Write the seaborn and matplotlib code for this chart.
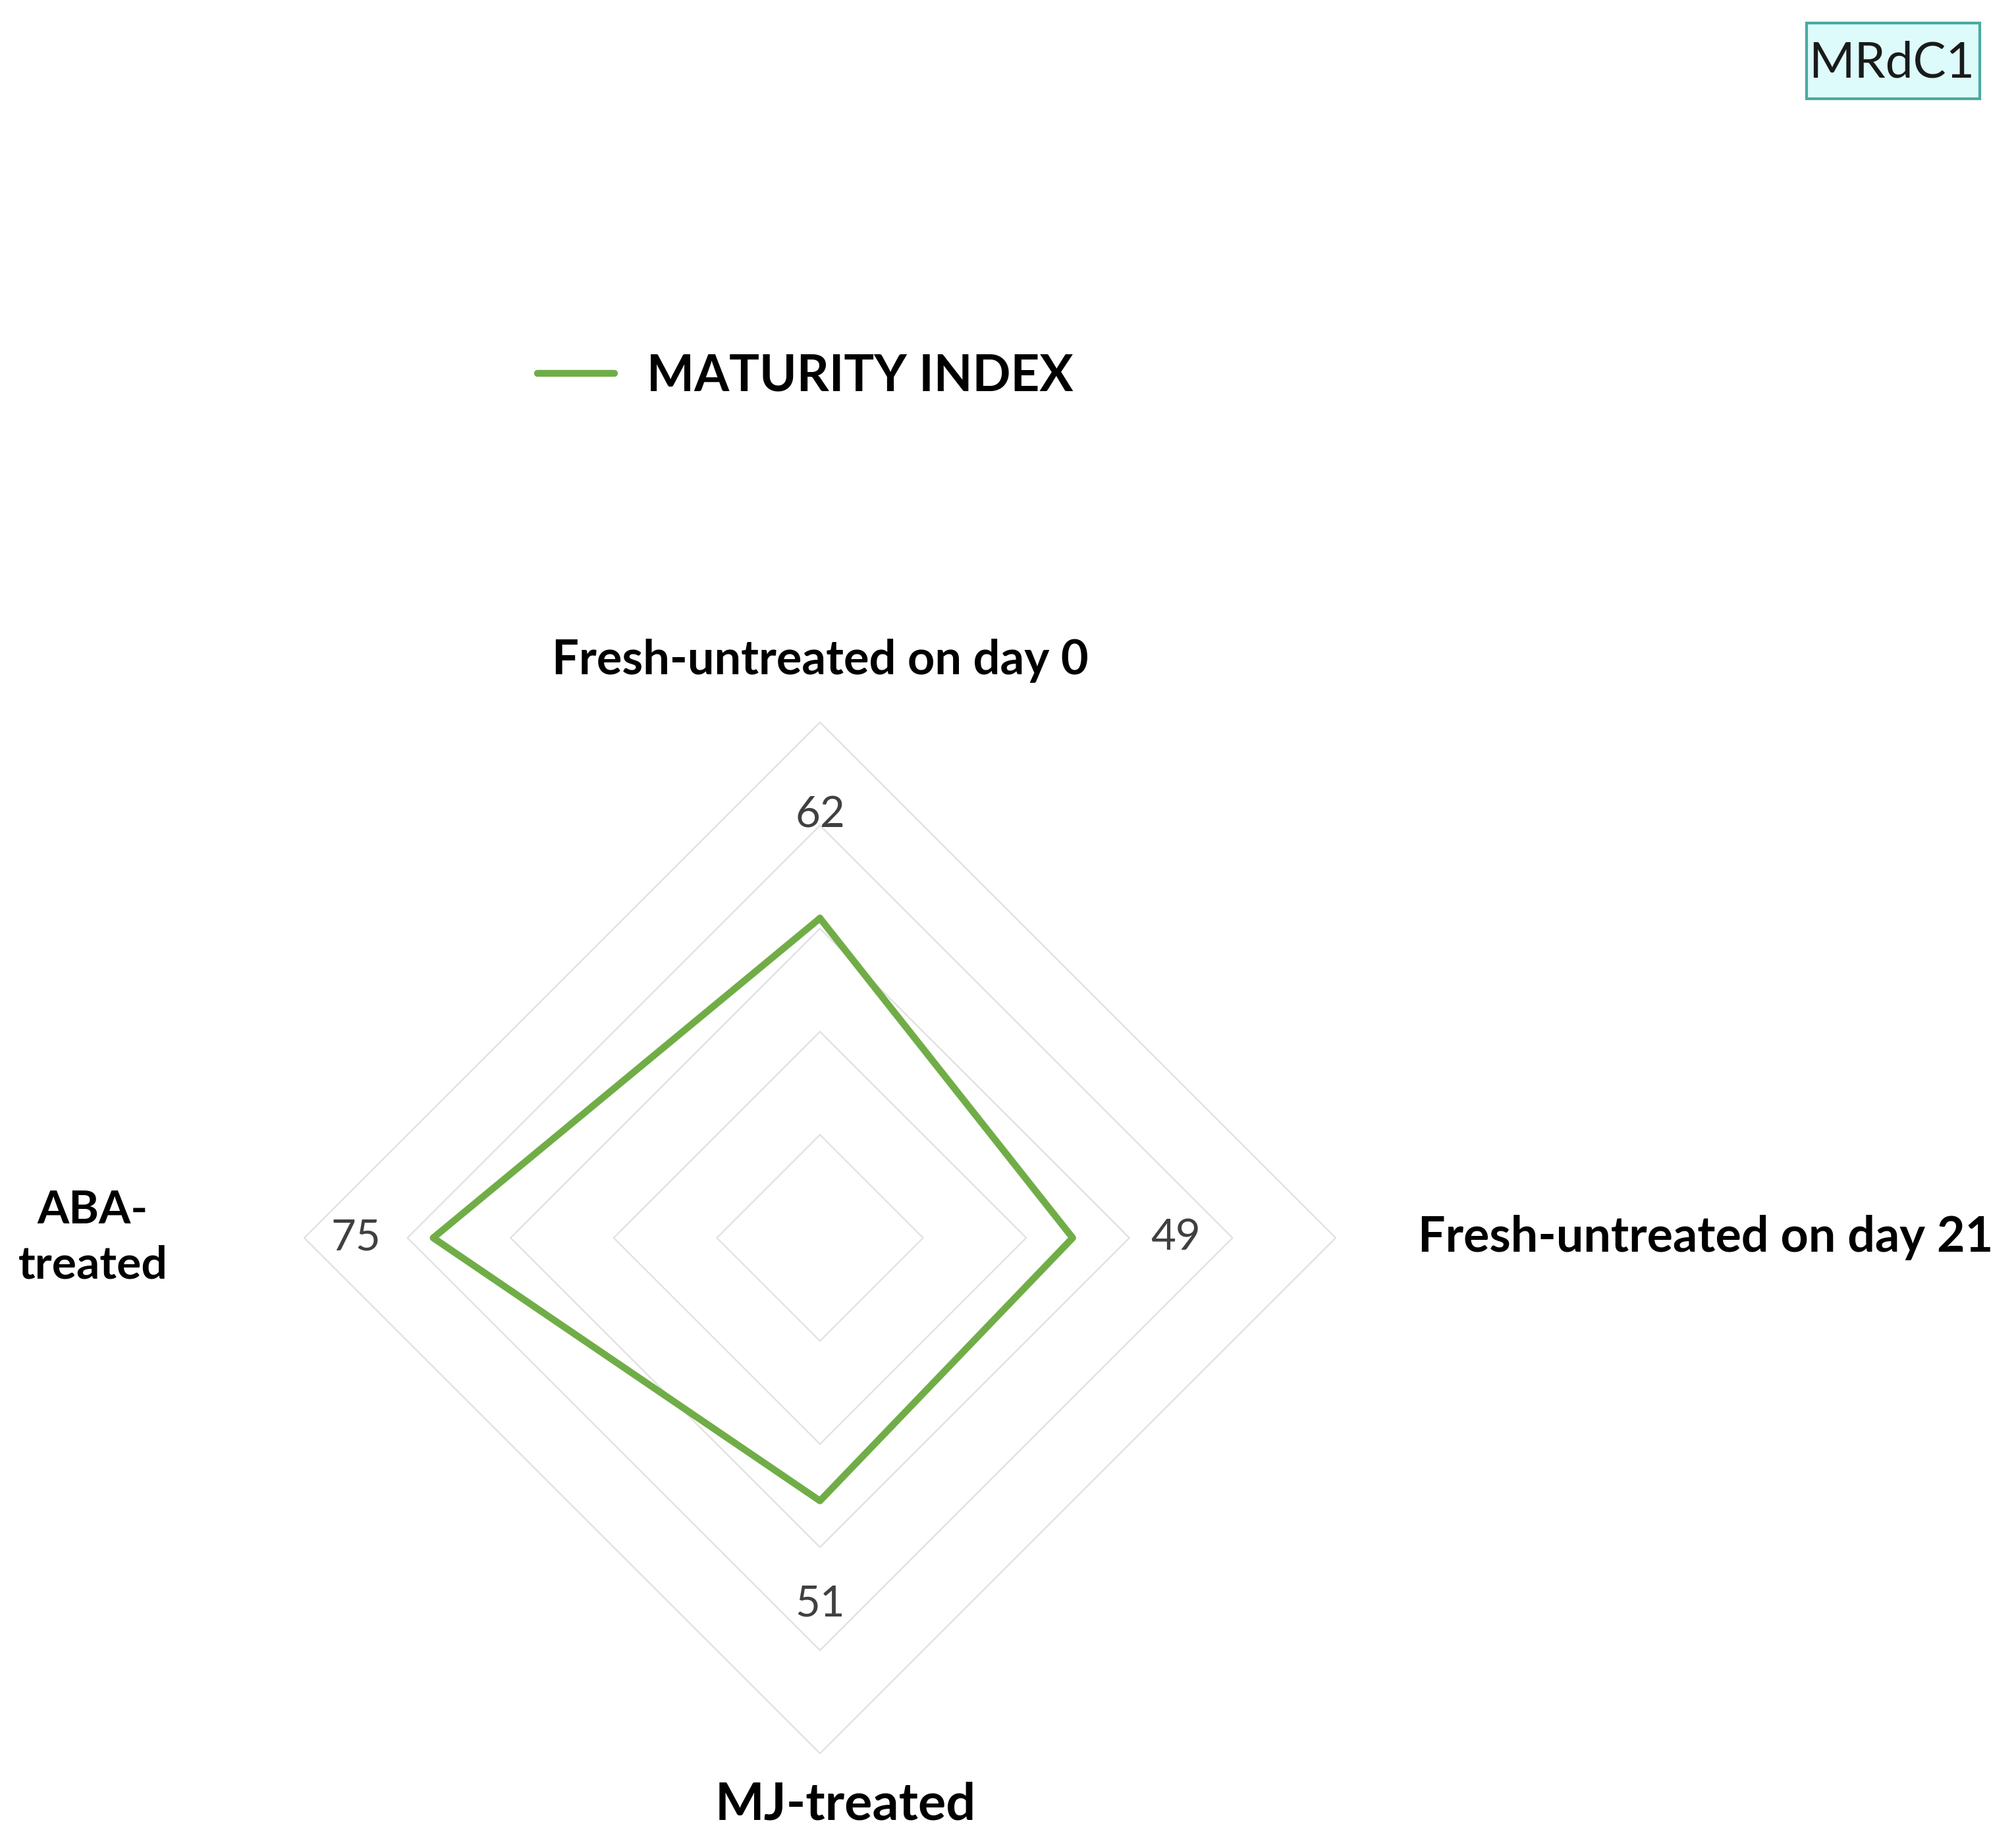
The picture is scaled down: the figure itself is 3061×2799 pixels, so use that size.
import numpy as np
import pandas as pd
import matplotlib
matplotlib.use('Agg')
import matplotlib.pyplot as plt
from matplotlib.patches import Rectangle
import seaborn as sns

# data
categories = ['Fresh-untreated on day 0', 'Fresh-untreated on day 21', 'MJ-treated', 'ABA-\ntreated']
maturity_index = [62, 49, 51, 75]
grid_levels = [20, 40, 60, 80, 100]
series_name = 'MATURITY INDEX'
badge_text = 'MRdC1'

sns.set_theme(style='white')
plt.rcParams['font.family'] = ['Lato', 'DejaVu Sans']

W, H, DPI = 3061, 2799, 100
fig = plt.figure(figsize=(W / DPI, H / DPI), dpi=DPI)
fig.patch.set_facecolor('white')
ax = fig.add_axes([0, 0, 1, 1])

# radar centre (pixels) and pixels per index unit
cx, cy, ppu = 1245, 1880, 7.83
ax.axis('off')

# axes go clockwise starting at the top
angles = np.pi / 2 - np.arange(len(categories)) * 2 * np.pi / len(categories)
closed = np.append(angles, angles[0])

# diamond gridlines
for lev in grid_levels:
    ax.plot(lev * np.cos(closed), lev * np.sin(closed), color='#E2E2E2', lw=1.7, zorder=1)

# the series
vals = np.append(maturity_index, maturity_index[0])
df = pd.DataFrame({'x': vals * np.cos(closed), 'y': vals * np.sin(closed)})
sns.lineplot(data=df, x='x', y='y', sort=False, estimator=None, color='#70AD47',
             lw=7.5, label=series_name, ax=ax, zorder=3)
ax.set_xlim(-cx / ppu, (W - cx) / ppu)
ax.set_ylim(-(H - cy) / ppu, cy / ppu)

# data labels
label_offset = [20, 20, 20, 15]
for a, v, off in zip(angles, maturity_index, label_offset):
    r = v + off
    ax.text(r * np.cos(a), r * np.sin(a), str(v), ha='center', va='center',
            fontsize=47, color='#404040')

# category labels
cat_radius = [112, 116, 110, 141]
cat_dx = [0, 0, 5, 0]
cat_ha = ['center', 'left', 'center', 'center']
cat_size = [52, 53, 57, 50]
for a, name, r, dx, ha, fs in zip(angles, categories, cat_radius, cat_dx, cat_ha, cat_size):
    ax.text(r * np.cos(a) + dx, r * np.sin(a), name, ha=ha, va='center', fontsize=fs,
            fontweight='bold', color='black', linespacing=1.4)

# legend
fs_leg = 55
px_per_em = fs_leg * DPI / 72
leg = ax.legend(loc='center left', bbox_to_anchor=(816 / W, 1 - 572 / H), bbox_transform=fig.transFigure,
                frameon=False, borderpad=0, borderaxespad=0,
                handlelength=117 / px_per_em, handletextpad=49 / px_per_em,
                prop={'weight': 'bold', 'size': fs_leg})
for t in leg.get_texts():
    t.set_color('black')

# badge in the corner
fig.patches.append(Rectangle((2743 / W, 1 - 150 / H), 263 / W, 115 / H, transform=fig.transFigure,
                             facecolor='#DDFBFB', edgecolor='#4AA9A0', lw=3, zorder=0))
fig.text(2872 / W, 1 - 96 / H, badge_text, ha='center', va='center', fontsize=54, color='#1a1a1a')

fig.savefig('out.png', dpi=DPI, facecolor='white')
